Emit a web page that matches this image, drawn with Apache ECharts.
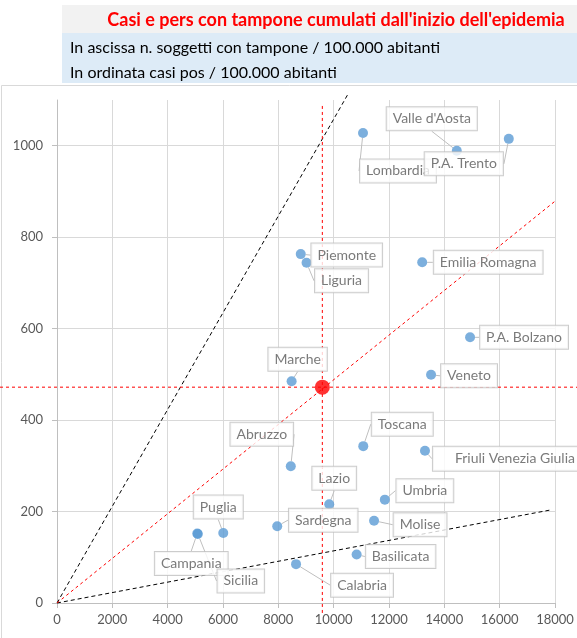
<!DOCTYPE html>
<html>
<head>
<meta charset="utf-8">
<script src="https://cdn.jsdelivr.net/npm/echarts@6/dist/echarts.min.js"></script>
<style>
html,body{margin:0;padding:0;background:#fff;}
#chart{width:577px;height:638px;}
</style>
</head>
<body>
<div id="chart"></div>
<script>
var regioni = ['Lombardia', "Valle d'Aosta", 'P.A. Trento', 'Piemonte', 'Liguria', 'Emilia Romagna', 'P.A. Bolzano',
  'Marche', 'Veneto', 'Toscana', 'Friuli Venezia Giulia', 'Abruzzo', 'Lazio', 'Umbria', 'Sardegna', 'Molise',
  'Puglia', 'Campania', 'Sicilia', 'Basilicata', 'Calabria'];
var tamponi = [11060, 14450, 16330, 8810, 9020, 13200, 14930, 8480, 13520, 11070, 13300, 8450, 9840, 11850, 7960, 11460, 6010, 5070, 5090, 10830, 8640];
var casi = [1028, 989, 1015, 763, 744, 745, 581, 485, 499, 343, 333, 299, 216, 226, 168, 180, 153, 152, 151, 106, 85];

// media Italia
var media = [9590, 472];

// rette di riferimento (origine -> estremo)
var rettaAlta = [[0, 0], [10500, 1111]];
var rettaBassa = [[0, 0], [17800, 203]];
var rettaMedia = [[0, 0], [18150, 886]];
var vertMedia = [[9590, 1087], [9590, -22]];
// orizzontale su tutta la larghezza (asse ausiliario 0..1)
var orizzMedia = [[0, 472], [1, 472]];

var xTicks = [0, 18000, 2000];
var yTicks = [0, 1100, 200];

// spostamento etichette (px)
var labelDx = [35, -25, -45, 46, 35, 66, 54, 6, 38, 39, 84, -29, 5, 40, 46, 46, -5, -6, 43, 44, 66];
var labelDy = [38, -32, 25, 1, 18, 0, 0, -22, 1, -22, 8, -32, -26, -9, -6, 4, -26, 30, 47, 2, 21];

var chart = echarts.init(document.getElementById('chart'));

var punti = regioni.map(function (r, i) {
  var item = { name: r, value: [tamponi[i], casi[i]] };
  if (r == 'Friuli Venezia Giulia') {
    item.label = { padding: [5, 10, 5, 22] };
  }
  return item;
});

var tratteggio = function (nome, dati, colore, dash) {
  return {
    type: 'line',
    name: nome,
    data: dati,
    symbol: 'none',
    clip: false,
    silent: true,
    z: 1,
    lineStyle: { color: colore, width: 1, type: dash }
  };
};

var numero = function (v) { return String(v); };

var orizz = tratteggio('orizz', orizzMedia, '#ff0000', [3, 3]);
orizz.xAxisIndex = 1;
orizz.yAxisIndex = 1;

var option = {
  animation: false,
  graphic: [
    { type: 'rect', z: -10, shape: { x: 62, y: 5, width: 515, height: 28 }, style: { fill: '#f2f2f2' } },
    { type: 'rect', z: -10, shape: { x: 62, y: 33, width: 515, height: 50 }, style: { fill: '#ddebf7' } },
    { type: 'rect', z: -10, shape: { x: 1.5, y: 85.5, width: 580, height: 560 }, style: { fill: 'none', stroke: '#d9d9d9', lineWidth: 1 } }
  ],
  title: [
    {
      text: "Casi e pers con tampone cumulati dall'inizio dell'epidemia",
      left: 331, top: 6, textAlign: 'center',
      textStyle: { color: '#ff0000', fontWeight: 'bold', fontSize: 18, fontFamily: 'Lato' }
    },
    {
      text: 'In ascissa n. soggetti con tampone / 100.000 abitanti',
      left: 65, top: 35,
      textStyle: { color: '#000', fontWeight: 'normal', fontSize: 16, fontFamily: 'Lato' }
    },
    {
      text: 'In ordinata casi pos / 100.000 abitanti',
      left: 65, top: 60,
      textStyle: { color: '#000', fontWeight: 'normal', fontSize: 16, fontFamily: 'Lato' }
    }
  ],
  grid: [
    { left: 57, right: 22, top: 100, bottom: 35, containLabel: false },
    { left: 0, right: 0, top: 100, bottom: 35, containLabel: false }
  ],
  xAxis: [{
    type: 'value',
    min: xTicks[0], max: xTicks[1], interval: xTicks[2],
    axisLine: { show: true, lineStyle: { color: '#bfbfbf' } },
    axisTick: { show: true, length: 5, lineStyle: { color: '#bfbfbf' } },
    axisLabel: { color: '#595959', fontSize: 13, fontFamily: 'Lato', margin: 10, formatter: numero },
    splitLine: { show: true, lineStyle: { color: '#d9d9d9' } }
  }, {
    type: 'value', gridIndex: 1, min: 0, max: 1, show: false
  }],
  yAxis: [{
    type: 'value',
    min: yTicks[0], max: yTicks[1], interval: yTicks[2],
    axisLine: { show: true, lineStyle: { color: '#bfbfbf' } },
    axisTick: { show: true, length: 5, lineStyle: { color: '#bfbfbf' } },
    axisLabel: { color: '#595959', fontSize: 13, fontFamily: 'Lato', margin: 14, showMaxLabel: false, formatter: numero },
    splitLine: { show: true, lineStyle: { color: ['#d9d9d9', '#d9d9d9', '#d9d9d9', '#d9d9d9', '#d9d9d9', '#d9d9d9', 'rgba(0,0,0,0)'] } }
  }, {
    type: 'value', gridIndex: 1, min: yTicks[0], max: yTicks[1], show: false
  }],
  series: [
    tratteggio('alta', rettaAlta, '#000', [4, 3]),
    tratteggio('bassa', rettaBassa, '#000', [4, 3]),
    tratteggio('media', rettaMedia, '#ff0000', [3, 3]),
    tratteggio('vert', vertMedia, '#ff0000', [3, 3]),
    orizz,
    {
      type: 'scatter',
      name: 'Regioni',
      data: punti,
      symbolSize: 10,
      z: 5,
      itemStyle: { color: '#5b9bd5' },
      label: {
        show: true,
        position: 'inside',
        formatter: '{b}',
        color: '#595959',
        fontSize: 14,
        fontFamily: 'Lato',
        backgroundColor: '#fff',
        borderColor: '#bfbfbf',
        borderWidth: 1,
        padding: [5, 6, 4, 6]
      },
      labelLine: { show: true, lineStyle: { color: '#bfbfbf', width: 1 } },
      labelLayout: function (params) {
        return { dx: labelDx[params.dataIndex], dy: labelDy[params.dataIndex], hideOverlap: false };
      }
    },
    {
      type: 'scatter',
      name: 'Italia',
      data: [media],
      symbolSize: 15,
      z: 6,
      itemStyle: { color: '#ff0000' }
    }
  ]
};
chart.setOption(option);
</script>
</body>
</html>
